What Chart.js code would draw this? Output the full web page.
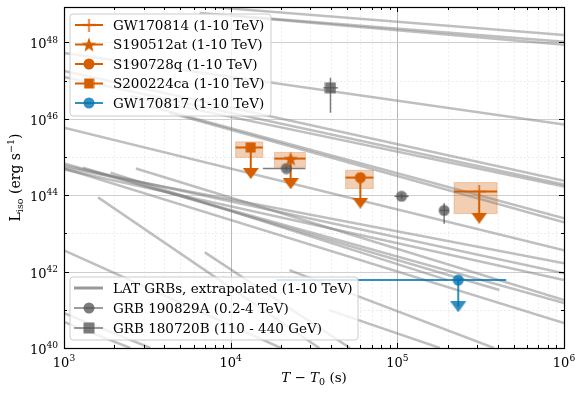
<!DOCTYPE html>
<html>
<head>
<meta charset="utf-8">
<script src="https://cdn.jsdelivr.net/npm/chart.js@4.4.0/dist/chart.umd.min.js"></script>
<style>
  html, body { margin: 0; padding: 0; background: #fff; }
  #wrap { width: 582px; height: 393px; }
</style>
</head>
<body>
<div id="wrap"><canvas id="chart" width="582" height="393"></canvas></div>
<script>
// LAT GRBs extrapolated to 1-10 TeV: each line goes from (T0, L0) to (T1, L1)
const latT0 = [6.5e3, 6.5e3, 1.0e4, 1e3, 1e3, 1e3, 2.5e3, 1e3, 3.3e3, 4.3e3, 1e3, 1e3, 1e3, 1e3, 1.3e3, 2.7e3, 1.9e3, 1.6e3, 1e3, 7.0e3, 2.25e4, 3.9e4, 1e3, 1e3, 1e3];
const latL0 = [9.0e48, 5.9e48, 5.0e48, 5.3e47, 1.8e47, 1.26e47, 4.0e46, 5.9e45, 2.1e46, 1.45e46, 5.3e44, 4.7e44, 6.8e44, 5.0e44, 5.3e44, 5.0e44, 3.9e44, 8.8e43, 3.6e42, 3.2e42, 1.09e42, 9.8e40, 8.2e40, 4.8e40, 6.0e44];
const latT1 = [1e6, 1e6, 1e6, 1e6, 1e6, 1e6, 1e6, 1e6, 1e6, 1e6, 1e6, 1e6, 1e6, 1e6, 4.1e5, 1e6, 2.0e5, 3.4e4, 2.0e4, 5.2e4, 3.8e5, 1.8e5, 3.3e3, 2.5e3, 1e6];
const latL1 = [1.58e48, 1.04e48, 8.7e47, 7.1e45, 2.4e44, 1.9e44, 1.7e44, 3.6e42, 2.5e43, 1.95e43, 1.66e42, 6.0e41, 1.5e41, 4.5e40, 3.3e41, 1.8e41, 6.0e41, 1e40, 1e40, 1e40, 1e40, 1e40, 1e40, 1e40, 9.0e41];

// GW follow-ups, upper limits (1-10 TeV)
const gwNames = ['GW170814', 'S190512at', 'S190728q', 'S200224ca', 'GW170817'];
const gwT = [3.1e5, 2.29e4, 6.0e4, 1.32e4, 2.32e5];
const gwTLo = [2.19e5, 1.83e4, 4.89e4, 1.07e4, 1.88e4];
const gwTHi = [3.97e5, 2.81e4, 7.18e4, 1.56e4, 4.5e5];
const gwL = [1.25e44, 9.1e44, 2.9e44, 1.78e45, 6.0e41];
const gwArrow = [2.5e43, 2.0e44, 6.2e43, 3.7e44, 1.2e41];
const gwBoxLo = [3.3e43, 5.4e44, 1.5e44, 9.8e44, null];
const gwBoxHi = [2.15e44, 1.32e45, 4.5e44, 2.5e45, null];

// GRB 190829A (0.2-4 TeV)
const g190829T = [2.16e4, 1.06e5, 1.91e5];
const g190829TLo = [1.56e4, 9.6e4, 1.8e5];
const g190829THi = [2.81e4, 1.17e5, 2.03e5];
const g190829L = [5.0e44, 9.4e43, 4.0e43];
const g190829LLo = [4.4e44, 8.0e43, 1.8e43];
const g190829LHi = [5.7e44, 1.1e44, 6.2e43];

// GRB 180720B (110 - 440 GeV)
const g180720T = [3.97e4];
const g180720TLo = [3.6e4];
const g180720THi = [4.4e4];
const g180720L = [6.5e46];
const g180720LLo = [1.45e46];
const g180720LHi = [1.2e47];

const xTickExps = [3, 4, 5, 6];
const yTickExps = [40, 42, 44, 46, 48];
const yMax = 8.5e48;

const ORANGE = '#d55e00';
const BLUE = 'rgba(1,115,178,0.8)';
const GRAY = 'rgba(80,80,80,0.75)';
const LATCOLOR = 'rgba(128,128,128,0.5)';
const FONT = '"DejaVu Serif", serif';

function makeMarker(kind, fill, w, h) {
  const c = document.createElement('canvas');
  c.width = w; c.height = h;
  const g = c.getContext('2d');
  g.fillStyle = fill; g.strokeStyle = fill;
  const cx = w / 2, cy = h / 2;
  if (kind === 'circle') {
    g.beginPath(); g.arc(cx, cy, w / 2 - 0.5, 0, Math.PI * 2); g.fill();
  } else if (kind === 'square') {
    g.fillRect(0.5, 0.5, w - 1, h - 1);
  } else if (kind === 'star') {
    g.beginPath();
    for (let k = 0; k < 10; k++) {
      const r = k % 2 === 0 ? w / 2 - 0.3 : (w / 2) * 0.4;
      const a = -Math.PI / 2 + k * Math.PI / 5;
      const px = cx + r * Math.cos(a), py = cy + 0.8 + r * Math.sin(a);
      if (k) g.lineTo(px, py); else g.moveTo(px, py);
    }
    g.closePath(); g.fill();
  } else if (kind === 'plus') {
    g.lineWidth = 1.5;
    g.beginPath(); g.moveTo(cx, 0); g.lineTo(cx, h); g.moveTo(0, cy); g.lineTo(w, cy); g.stroke();
  } else if (kind === 'tridown') {
    g.beginPath(); g.moveTo(0, 0); g.lineTo(w, 0); g.lineTo(cx, h); g.closePath(); g.fill();
  }
  return c;
}

const gwColors = [ORANGE, ORANGE, ORANGE, ORANGE, BLUE];
const gwMarkers = [
  makeMarker('plus', ORANGE, 13, 13),
  makeMarker('star', ORANGE, 16, 16),
  makeMarker('circle', ORANGE, 12, 12),
  makeMarker('square', ORANGE, 11, 11),
  makeMarker('circle', BLUE, 12, 12)
];
const triOrange = makeMarker('tridown', ORANGE, 16, 11);
const triBlue = makeMarker('tridown', BLUE, 16, 11);
const grayCircle = makeMarker('circle', GRAY, 12, 12);
const graySquare = makeMarker('square', GRAY, 12, 12);

const datasets = [];
latT0.forEach((t, i) => {
  datasets.push({
    data: [{ x: t, y: latL0[i] }, { x: latT1[i], y: latL1[i] }],
    showLine: true, borderColor: LATCOLOR, borderWidth: 2.5, pointRadius: 0, order: 50
  });
});

function errorBars(T, TLo, THi, L, LLo, LHi, color, width) {
  T.forEach((t, i) => {
    datasets.push({ data: [{ x: TLo[i], y: L[i] }, { x: THi[i], y: L[i] }],
      showLine: true, borderColor: color, borderWidth: width, pointRadius: 0, order: 20 });
    datasets.push({ data: [{ x: t, y: LLo[i] }, { x: t, y: LHi[i] }],
      showLine: true, borderColor: color, borderWidth: width, pointRadius: 0, order: 20 });
  });
}
errorBars(g190829T, g190829TLo, g190829THi, g190829L, g190829LLo, g190829LHi, GRAY, 1.5);
errorBars(g180720T, g180720TLo, g180720THi, g180720L, g180720LLo, g180720LHi, GRAY, 1.5);
datasets.push({ data: g190829T.map((t, i) => ({ x: t, y: g190829L[i] })), pointStyle: grayCircle, pointRadius: 6, order: 15 });
datasets.push({ data: g180720T.map((t, i) => ({ x: t, y: g180720L[i] })), pointStyle: graySquare, pointRadius: 6, order: 15 });

gwNames.forEach((n, i) => {
  const c = gwColors[i];
  datasets.push({ data: [{ x: gwTLo[i], y: gwL[i] }, { x: gwTHi[i], y: gwL[i] }],
    showLine: true, borderColor: c, borderWidth: 2, pointRadius: 0, order: 20 });
  datasets.push({ data: [{ x: gwT[i], y: gwL[i] }, { x: gwT[i], y: gwArrow[i] }],
    showLine: true, borderColor: c, borderWidth: 2, pointRadius: 0, order: 20 });
  datasets.push({ data: [{ x: gwT[i], y: gwArrow[i] }], pointStyle: i === 4 ? triBlue : triOrange, pointRadius: 6, order: 12 });
  datasets.push({ data: [{ x: gwT[i], y: gwL[i] }], pointStyle: gwMarkers[i], pointRadius: 6, order: 10 });
});

function supText(ctx, base, exp, x, y, size, align) {
  ctx.font = size + 'px ' + FONT;
  const wb = ctx.measureText(base).width;
  ctx.font = (size * 0.7) + 'px ' + FONT;
  const we = ctx.measureText(exp).width;
  let x0 = x;
  if (align === 'center') x0 = x - (wb + we) / 2;
  if (align === 'right') x0 = x - (wb + we);
  ctx.textAlign = 'left'; ctx.textBaseline = 'alphabetic';
  ctx.font = size + 'px ' + FONT;
  ctx.fillText(base, x0, y);
  ctx.font = (size * 0.7) + 'px ' + FONT;
  ctx.fillText(exp, x0 + wb, y - size * 0.45);
}

function runs(ctx, parts) {
  // parts: [text, size, dy, italic]
  let w = 0;
  parts.forEach(p => { ctx.font = (p[3] ? 'italic ' : '') + p[1] + 'px ' + FONT; w += ctx.measureText(p[0]).width; });
  return w;
}
function drawRuns(ctx, parts, x, y) {
  let cx = x;
  parts.forEach(p => {
    ctx.font = (p[3] ? 'italic ' : '') + p[1] + 'px ' + FONT;
    ctx.fillText(p[0], cx, y + p[2]);
    cx += ctx.measureText(p[0]).width;
  });
}

function legendBox(ctx, x, y, w, h) {
  const r = 3;
  ctx.beginPath();
  ctx.moveTo(x + r, y); ctx.lineTo(x + w - r, y); ctx.quadraticCurveTo(x + w, y, x + w, y + r);
  ctx.lineTo(x + w, y + h - r); ctx.quadraticCurveTo(x + w, y + h, x + w - r, y + h);
  ctx.lineTo(x + r, y + h); ctx.quadraticCurveTo(x, y + h, x, y + h - r);
  ctx.lineTo(x, y + r); ctx.quadraticCurveTo(x, y, x + r, y);
  ctx.closePath();
  ctx.fillStyle = 'rgba(255,255,255,0.8)'; ctx.fill();
  ctx.strokeStyle = '#cccccc'; ctx.lineWidth = 1; ctx.stroke();
}

const decor = {
  id: 'decor',
  beforeDatasetsDraw(chart) {
    const { ctx, chartArea: a, scales: { x, y } } = chart;
    ctx.save();
    // grid
    for (let e = 3; e < 6; e++) {
      for (let m = 2; m < 10; m++) {
        const px = Math.round(x.getPixelForValue(m * Math.pow(10, e))) + 0.5;
        ctx.strokeStyle = '#ebebeb'; ctx.lineWidth = 0.8; ctx.setLineDash([2, 2]);
        ctx.beginPath(); ctx.moveTo(px, a.top); ctx.lineTo(px, a.bottom); ctx.stroke();
      }
    }
    ctx.setLineDash([]);
    [4, 5].forEach(e => {
      const px = Math.round(x.getPixelForValue(Math.pow(10, e))) + 0.5;
      ctx.strokeStyle = '#b8b8b8'; ctx.lineWidth = 1;
      ctx.beginPath(); ctx.moveTo(px, a.top); ctx.lineTo(px, a.bottom); ctx.stroke();
    });
    for (let e = 41; e <= 48; e++) {
      const py = Math.round(y.getPixelForValue(Math.pow(10, e))) + 0.5;
      if (e % 2 === 0) { ctx.strokeStyle = '#cfcfcf'; ctx.lineWidth = 1.2; ctx.setLineDash([]); }
      else { ctx.strokeStyle = '#e6e6e6'; ctx.lineWidth = 0.8; ctx.setLineDash([2, 2]); }
      ctx.beginPath(); ctx.moveTo(a.left, py); ctx.lineTo(a.right, py); ctx.stroke();
    }
    ctx.setLineDash([]);
    // shaded ranges
    gwBoxLo.forEach((lo, i) => {
      if (lo === null) return;
      const x0 = x.getPixelForValue(gwTLo[i]), x1 = x.getPixelForValue(gwTHi[i]);
      const y0 = y.getPixelForValue(gwBoxHi[i]), y1 = y.getPixelForValue(lo);
      ctx.fillStyle = 'rgba(213,94,0,0.3)';
      ctx.fillRect(x0, y0, x1 - x0, y1 - y0);
      ctx.strokeStyle = 'rgba(213,94,0,0.25)'; ctx.lineWidth = 1;
      ctx.strokeRect(x0, y0, x1 - x0, y1 - y0);
    });
    ctx.restore();
  },
  afterDatasetsDraw(chart) {
    const { ctx, chartArea: a, scales: { x, y } } = chart;
    ctx.save();
    ctx.strokeStyle = '#000'; ctx.lineWidth = 1;
    // ticks, pointing inward on all sides
    for (let e = 3; e <= 6; e++) {
      for (let m = 1; m < 10; m++) {
        const v = m * Math.pow(10, e);
        if (v > 1e6) break;
        const px = Math.round(x.getPixelForValue(v)) + 0.5;
        const len = m === 1 ? 5 : 3;
        ctx.beginPath();
        ctx.moveTo(px, a.bottom); ctx.lineTo(px, a.bottom - len);
        ctx.moveTo(px, a.top); ctx.lineTo(px, a.top + len);
        ctx.stroke();
      }
    }
    for (let e = 40; e <= 48; e++) {
      const py = Math.round(y.getPixelForValue(Math.pow(10, e))) + 0.5;
      const len = e % 2 === 0 ? 5 : 3;
      ctx.beginPath();
      ctx.moveTo(a.left, py); ctx.lineTo(a.left + len, py);
      ctx.moveTo(a.right, py); ctx.lineTo(a.right - len, py);
      ctx.stroke();
    }
    ctx.lineWidth = 1.2;
    ctx.strokeRect(Math.round(a.left) + 0.5, Math.round(a.top) + 0.5, Math.round(a.right - a.left), Math.round(a.bottom - a.top));
    ctx.restore();
  },
  afterDraw(chart) {
    const { ctx, chartArea: a, scales: { x, y } } = chart;
    ctx.save();
    ctx.fillStyle = '#000';
    // tick labels
    xTickExps.forEach(e => {
      supText(ctx, '10', String(e), x.getPixelForValue(Math.pow(10, e)), a.bottom + 19, 13, 'center');
    });
    yTickExps.forEach(e => {
      supText(ctx, '10', String(e), a.left - 6, y.getPixelForValue(Math.pow(10, e)) + 6, 13, 'right');
    });
    // axis titles
    const xt = [['T', 13.5, 0, true], [' \u2212 ', 13.5, 0, false], ['T', 13.5, 0, true], ['0', 9.5, 3, false], [' (s)', 13.5, 0, false]];
    const xw = runs(ctx, xt);
    ctx.textBaseline = 'alphabetic'; ctx.textAlign = 'left';
    drawRuns(ctx, xt, (a.left + a.right) / 2 - xw / 2, 382);
    const yt = [['L', 14, 0, false], ['iso', 9.5, 3, false], [' (erg s', 14, 0, false], ['\u22121', 9.5, -6, false], [')', 14, 0, false]];
    const yw = runs(ctx, yt);
    ctx.translate(20, (a.top + a.bottom) / 2);
    ctx.rotate(-Math.PI / 2);
    drawRuns(ctx, yt, -yw / 2, 0);
    ctx.setTransform(1, 0, 0, 1, 0, 0);

    // legends
    const lx = a.left + 6;
    legendBox(ctx, lx, a.top + 7, 201, 102);
    gwNames.forEach((n, i) => {
      const ry = a.top + 18 + i * 19.5;
      ctx.strokeStyle = gwColors[i]; ctx.lineWidth = 2;
      ctx.beginPath(); ctx.moveTo(lx + 5, ry); ctx.lineTo(lx + 33, ry); ctx.stroke();
      const mk = gwMarkers[i];
      ctx.drawImage(mk, lx + 19 - mk.width / 2, ry - mk.height / 2);
      ctx.fillStyle = '#000'; ctx.font = '13.5px ' + FONT; ctx.textBaseline = 'middle';
      ctx.fillText(n + ' (1-10 TeV)', lx + 43, ry + 1);
    });
    const l2y = a.bottom - 71;
    legendBox(ctx, lx, l2y, 288, 63);
    const l2 = [['LAT GRBs, extrapolated (1-10 TeV)', null], ['GRB 190829A (0.2-4 TeV)', grayCircle], ['GRB 180720B (110 - 440 GeV)', graySquare]];
    l2.forEach((row, i) => {
      const ry = l2y + 11 + i * 20;
      if (row[1] === null) {
        ctx.strokeStyle = 'rgba(128,128,128,0.8)'; ctx.lineWidth = 3;
      } else {
        ctx.strokeStyle = GRAY; ctx.lineWidth = 1.5;
      }
      ctx.beginPath(); ctx.moveTo(lx + 4, ry); ctx.lineTo(lx + 33, ry); ctx.stroke();
      if (row[1]) ctx.drawImage(row[1], lx + 19 - row[1].width / 2, ry - row[1].height / 2);
      ctx.fillStyle = '#000'; ctx.font = '13.5px ' + FONT; ctx.textBaseline = 'middle';
      ctx.fillText(row[0], lx + 43, ry + 1);
    });
    ctx.restore();
  }
};

new Chart(document.getElementById('chart'), {
  type: 'scatter',
  data: { datasets },
  options: {
    responsive: false,
    animation: false,
    devicePixelRatio: 1,
    layout: { padding: { top: 6, right: 18, left: 0, bottom: 0 } },
    plugins: { legend: { display: false }, tooltip: { enabled: false } },
    scales: {
      x: {
        type: 'logarithmic', min: 1e3, max: 1e6,
        grid: { display: false }, border: { display: false }, ticks: { display: false },
        afterFit(s) { s.height = 45; }
      },
      y: {
        type: 'logarithmic', min: 1e40, max: yMax,
        grid: { display: false }, border: { display: false }, ticks: { display: false },
        afterFit(s) { s.width = 64; }
      }
    }
  },
  plugins: [decor]
});
</script>
</body>
</html>
